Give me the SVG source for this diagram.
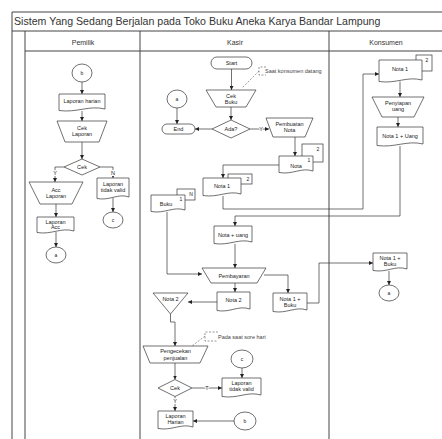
<svg xmlns="http://www.w3.org/2000/svg" width="442" height="439" viewBox="0 0 442 439">
<defs>
<style>
.frame{stroke:#444;stroke-width:1;fill:none}
.sh{fill:#fff;stroke:#333;stroke-width:0.7}
.ln{fill:none;stroke:#333;stroke-width:0.7}
.ar{fill:none;stroke:#333;stroke-width:0.7;marker-end:url(#ah)}
.dash{fill:none;stroke:#555;stroke-width:0.6;stroke-dasharray:2,1.5}
text{font-family:"Liberation Sans",Arial,sans-serif;fill:#222}
.t{font-size:5.5px;text-anchor:middle}
.n{font-size:5px;text-anchor:middle}
.lbl{font-size:5.5px;text-anchor:middle;paint-order:stroke;stroke:#fff;stroke-width:2}
.hd{font-size:7px;text-anchor:middle;fill:#333}
.an{font-size:5.5px;fill:#444}
</style>
<marker id="ah" viewBox="0 0 6 6" refX="6" refY="3" markerWidth="4" markerHeight="4" orient="auto" markerUnits="userSpaceOnUse"><path d="M0,0 L6,3 L0,6 z" fill="#222"/></marker>
</defs>
<rect width="442" height="439" fill="#fff"/>
<g id="frame">
<line class="frame" x1="12" y1="12" x2="12" y2="439"/>
<line class="frame" x1="25" y1="31" x2="25" y2="439"/>
<line class="frame" x1="140" y1="31" x2="140" y2="439"/>
<line class="frame" x1="329" y1="31" x2="329" y2="439"/>
<line class="frame" x1="12" y1="12" x2="442" y2="12"/>
<line class="frame" x1="12" y1="31" x2="442" y2="31"/>
<line class="frame" x1="25" y1="51" x2="442" y2="51"/>
<text x="14" y="25" style="font-size:10.6px;fill:#333">Sistem Yang Sedang Berjalan pada Toko Buku Aneka Karya Bandar Lampung</text>
<text class="hd" x="83" y="44.5">Pemilik</text>
<text class="hd" x="235" y="44.5">Kasir</text>
<text class="hd" x="386" y="44.5">Konsumen</text>
</g>
<g id="connectors">
<path class="ar" d="M82,82 V94"/>
<path class="ar" d="M82,111 V121"/>
<path class="ar" d="M82,142 V159"/>
<path class="ar" d="M64,167 H55 V182"/>
<path class="ar" d="M100,167 H113 V178"/>
<path class="ar" d="M56,204 V217"/>
<path class="ar" d="M56,232 V247"/>
<path class="ar" d="M113,198 V212"/>
<path class="ar" d="M231.5,69 V90"/>
<path class="ar" d="M231,107 V120"/>
<path class="ar" d="M212,129 H195"/>
<path class="ar" d="M250,129 H269"/>
<path class="ar" d="M177,108 V124"/>
<path class="ar" d="M295,137 V156"/>
<path class="ar" d="M279,165 H223 V178"/>
<path class="ar" d="M223,196 V209 H363 V74 H379"/>
<path class="ar" d="M167,212 V274 H202"/>
<path class="ar" d="M400,146 V216 H235 V226"/>
<path class="ar" d="M235,244 V268"/>
<path class="ar" d="M235,283 V292"/>
<path class="ar" d="M264,275 H288 V293"/>
<path class="ar" d="M217,302 H188"/>
<path class="ar" d="M170.5,314 V322 H175 V346"/>
<path class="ar" d="M175,363 V379.5"/>
<path class="ar" d="M192,388 H222"/>
<path class="ar" d="M175,396.5 V411"/>
<path class="ar" d="M242,368 V378"/>
<path class="ar" d="M234,421 H193"/>
<path class="ar" d="M307,303 H319 V263 H373"/>
<path class="ar" d="M400,81.5 V97"/>
<path class="ar" d="M398,117 V127"/>
<path class="ar" d="M389,271 V285"/>
<path class="dash" d="M259,71 L242,88"/>
<path class="dash" d="M205,336 L192,346"/>
<text class="lbl" x="55" y="175">Y</text>
<text class="lbl" x="113" y="175">N</text>
<text class="lbl" x="261" y="131">Y</text>
<text class="lbl" x="207" y="390">T</text>
<text class="lbl" x="175" y="402.5">Y</text>
</g>
<g id="p-b"><ellipse class="sh" cx="82" cy="73" rx="10" ry="9"/><text class="n" x="82" y="75">b</text></g>
<g id="p-laporan-harian"><path class="sh" d="M59,94 h46 v15 c-16,-4 -28,4 -46,1.5 z"/><text class="t" x="82" y="102.5">Laporan harian</text></g>
<g id="p-cek-laporan"><path class="sh" d="M57,121 H107 L99,142 H65 Z"/><text class="t" x="82" y="129.5">Cek</text><text class="t" x="82" y="136">Laporan</text></g>
<g id="p-cek"><path class="sh" d="M82,159 L100,167 L82,175 L64,167 Z"/><text class="t" x="82" y="169">Cek</text></g>
<g id="p-acc-laporan"><path class="sh" d="M29,182 H83 L72,204 H40 Z"/><text class="t" x="56" y="191.5">Acc</text><text class="t" x="56" y="198">Laporan</text></g>
<g id="p-laporan-acc"><path class="sh" d="M37,217 h37 v14 c-13,-4 -22,4 -37,1.5 z"/><text class="t" x="55.5" y="223.5">Laporan</text><text class="t" x="55.5" y="229">Acc</text></g>
<g id="p-a"><ellipse class="sh" cx="56" cy="255" rx="10" ry="8"/><text class="n" x="56" y="257">a</text></g>
<g id="p-laporan-tidak-valid"><path class="sh" d="M97,178 h32 v19 c-11,-4 -19,4 -32,1.5 z"/><text class="t" x="113" y="186">Laporan</text><text class="t" x="113" y="192">tidak valid</text></g>
<g id="p-c"><ellipse class="sh" cx="113" cy="220" rx="10" ry="8"/><text class="n" x="113" y="222">c</text></g>
<g id="k-start"><rect class="sh" x="211" y="57" width="41" height="12" rx="6"/><text class="t" x="231.5" y="65">Start</text></g>
<g id="k-note1"><path class="dash" d="M266,67 H259 V75 H266"/><text class="an" x="265" y="72.5">Saat konsumen datang</text></g>
<g id="k-cek-buku"><path class="sh" d="M206,90 H256 L246,107 H216 Z"/><text class="t" x="231" y="97.5">Cek</text><text class="t" x="231" y="103.5">Buku</text></g>
<g id="k-ada"><path class="sh" d="M231,120 L250,129 L231,138 L212,129 Z"/><text class="t" x="231" y="131">Ada?</text></g>
<g id="k-end"><rect class="sh" x="162" y="124" width="33" height="10" rx="5"/><text class="t" x="178.5" y="131">End</text></g>
<g id="k-a"><ellipse class="sh" cx="177" cy="99" rx="10" ry="9"/><text class="n" x="177" y="101">a</text></g>
<g id="k-pembuatan-nota"><path class="sh" d="M266,118 H313 L305,137 H273 Z"/><text class="t" x="289.5" y="125.5">Pembuatan</text><text class="t" x="289.5" y="131.5">Nota</text></g>
<g id="k-nota"><rect class="sh" x="302" y="144" width="21" height="18"/><text class="n" x="318" y="151">2</text><path class="sh" d="M279,156 h34 v15 c-12,-4 -20,4 -34,1.5 z"/><text class="n" x="309" y="162">1</text><text class="t" x="296" y="167.5">Nota</text></g>
<g id="k-nota1"><rect class="sh" x="228" y="174" width="24" height="10"/><text class="n" x="248" y="180.5">2</text><path class="sh" d="M203,178 h38 v16 c-13,-4 -23,4 -38,1.5 z"/><text class="t" x="222" y="187.5">Nota 1</text></g>
<g id="k-buku"><rect class="sh" x="177" y="189" width="18" height="11"/><text class="n" x="191" y="196">N</text><path class="sh" d="M151,195 h34 v15 c-12,-4 -20,4 -34,1.5 z"/><text class="n" x="181" y="201">1</text><text class="t" x="166" y="206">Buku</text></g>
<g id="k-nota-uang"><path class="sh" d="M214,226 h38 v16 c-13,-4 -23,4 -38,1.5 z"/><text class="t" x="233" y="237">Nota + uang</text></g>
<g id="k-pembayaran"><path class="sh" d="M202,268 H266 L257,283 H211 Z"/><text class="t" x="234" y="277.5">Pembayaran</text></g>
<g id="k-nota2"><path class="sh" d="M217,292 h33 v17 c-12,-4 -20,4 -33,1.5 z"/><text class="t" x="233.5" y="302">Nota 2</text></g>
<g id="k-nota2-arsip"><path class="sh" d="M153,293 H188 L170.5,314 Z"/><text class="t" x="170.5" y="301">Nota 2</text></g>
<g id="k-nota1-buku"><path class="sh" d="M273,293 h34 v17 c-12,-4 -20,4 -34,1.5 z"/><text class="t" x="290" y="300.5">Nota 1 +</text><text class="t" x="290" y="306.5">Buku</text></g>
<g id="k-note2"><path class="dash" d="M218,332 H205 V341 H218"/><text class="an" x="218" y="338.5">Pada saat sore hari</text></g>
<g id="k-pengecekan"><path class="sh" d="M143,346 H208 L200,363 H150 Z"/><text class="t" x="175.5" y="353">Pengecekan</text><text class="t" x="175.5" y="359.5">penjualan</text></g>
<g id="k-cek"><path class="sh" d="M175,379.5 L192,388 L175,396.5 L158,388 Z"/><text class="t" x="175" y="390">Cek</text></g>
<g id="k-laporan-tidak-valid"><path class="sh" d="M222,378 h39 v17 c-14,-4 -23,4 -39,1.5 z"/><text class="t" x="241.5" y="385">Laporan</text><text class="t" x="241.5" y="391">tidak valid</text></g>
<g id="k-c"><ellipse class="sh" cx="242" cy="359" rx="11" ry="9"/><text class="n" x="242" y="361">c</text></g>
<g id="k-laporan-harian"><path class="sh" d="M158,411 h35 v16 c-12,-4 -21,4 -35,1.5 z"/><text class="t" x="175.5" y="418">Laporan</text><text class="t" x="175.5" y="424">Harian</text></g>
<g id="k-b"><ellipse class="sh" cx="245" cy="421" rx="11" ry="9"/><text class="n" x="245" y="423">b</text></g>
<g id="c-nota1"><rect class="sh" x="416" y="55" width="16" height="16"/><text class="n" x="427" y="62">2</text><path class="sh" d="M379,60 h43 v20 c-15,-4 -26,4 -43,1.5 z"/><text class="t" x="400" y="71">Nota 1</text></g>
<g id="c-penyiapan-uang"><path class="sh" d="M372,97 H424 L414,117 H382 Z"/><text class="t" x="398" y="105">Penyiapan</text><text class="t" x="398" y="111">uang</text></g>
<g id="c-nota1-uang"><path class="sh" d="M377,127 h46 v17 c-16,-4 -28,4 -46,1.5 z"/><text class="t" x="400" y="137.5">Nota 1 + Uang</text></g>
<g id="c-nota1-buku"><path class="sh" d="M373,253 h34 v16 c-12,-4 -20,4 -34,1.5 z"/><text class="t" x="390" y="260">Nota 1 +</text><text class="t" x="390" y="266">Buku</text></g>
<g id="c-a"><ellipse class="sh" cx="389" cy="293" rx="10" ry="8"/><text class="n" x="389" y="295">a</text></g>
</svg>
